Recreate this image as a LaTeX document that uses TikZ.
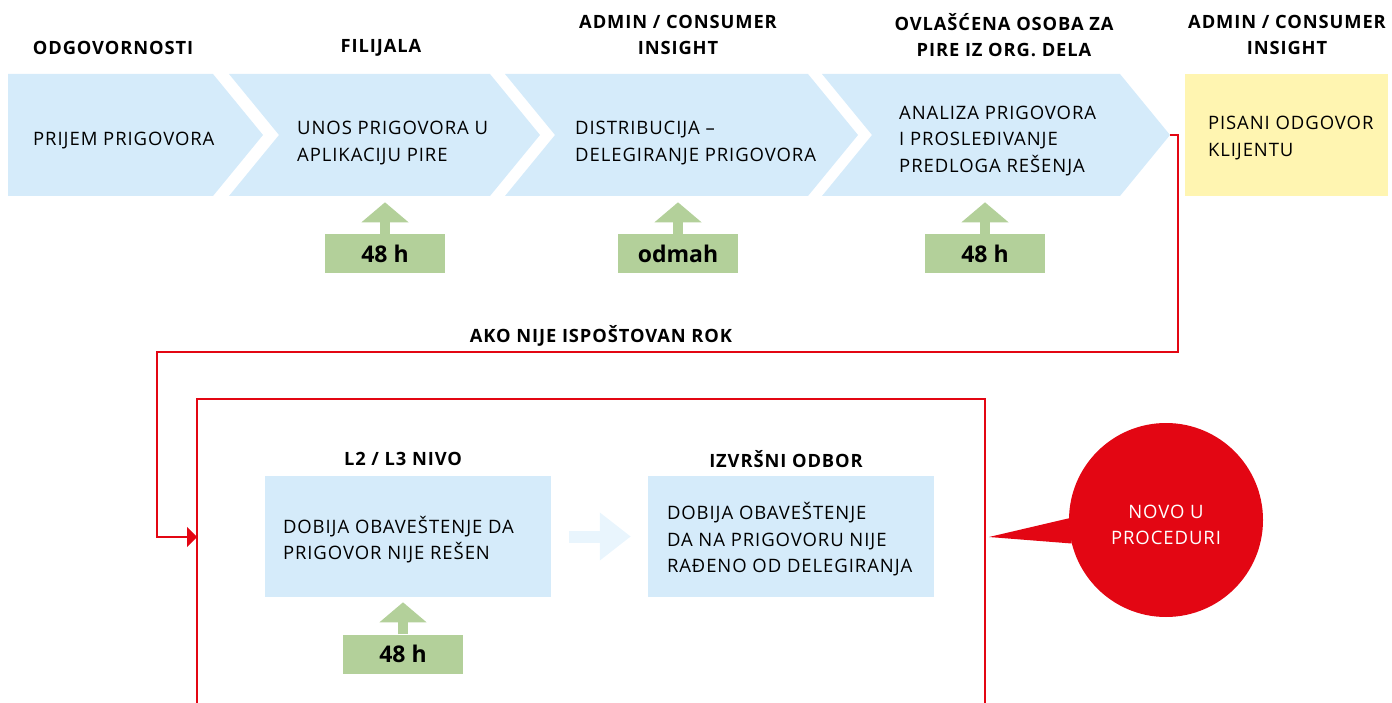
\documentclass[tikz,border=0pt]{standalone}
\usepackage{fontspec}
\setmainfont{Open Sans}
\newfontfamily\tracked[LetterSpace=5]{Open Sans}
\usetikzlibrary{positioning,arrows.meta}

\definecolor{chevblue}{HTML}{D5EBFA}
\definecolor{answeryellow}{HTML}{FFF5B1}
\definecolor{deadlinegreen}{HTML}{B3D09A}
\definecolor{alertred}{HTML}{E30613}
\definecolor{flowblue}{HTML}{E9F5FD}

\begin{document}
\begin{tikzpicture}[
    x=1pt, y=-1pt,
    chevron/.style={fill=chevblue},
    stagetext/.style={anchor=west, align=left, inner sep=0pt, yshift=-3pt, font=\tracked\fontsize{18.5}{26.5}\selectfont},
    role/.style={align=center, inner sep=0pt, yshift=-1pt, font=\tracked\bfseries\fontsize{18.3}{26}\selectfont},
    panel/.style={fill=chevblue, minimum width=286pt, minimum height=121pt, inner sep=0pt},
    deadline/.style={fill=deadlinegreen, minimum width=120pt, minimum height=39pt, inner sep=0pt, font=\bfseries\fontsize{23}{26}\selectfont},
    due/.style={draw=deadlinegreen, line width=10pt, -{Triangle[length=20pt, width=46pt]}},
    flow/.style={draw=flowblue, line width=12pt, -{Triangle[length=31pt, width=46pt]}},
    escalate/.style={draw=alertred, line width=2pt}
]
\useasboundingbox (0,0) rectangle (1392,703);

% Process chevrons
\fill[chevron] (8,74) -- (213,74) -- (263,135) -- (213,196) -- (8,196) -- cycle;
\fill[chevron] (229,74) -- (490,74) -- (540,135) -- (490,196) -- (229,196) -- (279,135) -- cycle;
\fill[chevron] (505,74) -- (808,74) -- (858,135) -- (808,196) -- (505,196) -- (555,135) -- cycle;
\fill[chevron] (822,74) -- (1120,74) -- (1170,135) -- (1120,196) -- (822,196) -- (872,135) -- cycle;
\coordinate (tip4) at (1170,135);
\node[fill=answeryellow, minimum width=203pt, minimum height=122pt, inner sep=0pt] (answer) at (1286.5,135) {};

% Stage texts
\node[stagetext] (s1) at (33,138) {PRIJEM PRIGOVORA};
\node[stagetext] (s2) at (297,140) {UNOS PRIGOVORA U\\APLIKACIJU PIRE};
\node[stagetext] (s3) at (575,140) {DISTRIBUCIJA –\\DELEGIRANJE PRIGOVORA};
\node[stagetext] (s4) at (899,138) {ANALIZA PRIGOVORA\\I PROSLEĐIVANJE\\PREDLOGA REŠENJA};
\node[stagetext, right=23pt of answer.west] (s5) {PISANI ODGOVOR\\KLIJENTU};

% Responsibilities
\node[role] (r1) at (113,47) {ODGOVORNOSTI};
\node[role] (r2) at (381,47) {FILIJALA};
\node[role] (r3) at (678,34) {ADMIN / CONSUMER\\INSIGHT};
\node[role] (r4) at (1004,34) {OVLAŠĆENA OSOBA ZA\\PIRE IZ ORG. DELA};
\node[role] (r5) at (1287,34) {ADMIN / CONSUMER\\INSIGHT};

% Deadlines
\node[deadline] (d2) at (385,254) {48 h};
\node[deadline] (d3) at (678,254) {odmah};
\node[deadline] (d4) at (985,254) {48 h};
\draw[due] (d2.north) -- ++(0,-32);
\draw[due] (d3.north) -- ++(0,-32);
\draw[due] (d4.north) -- ++(0,-32);

% Escalation
\coordinate (framein) at (197,537);
\draw[escalate] (197,703) |- (985,399) -- (985,703);
\draw[escalate, -{Triangle[length=10pt, width=20pt]}] (tip4) -- ++(8,0) |- (157,352) |- (framein);
\node[role] (late) at (601,335) {AKO NIJE ISPOŠTOVAN ROK};

\node[panel] (l2) at (408,536.5) {};
\node[stagetext, right=18pt of l2.west] (t2) {DOBIJA OBAVEŠTENJE DA\\PRIGOVOR NIJE REŠEN};
\node[role] (r6) at (403,458) {L2 / L3 NIVO};
\node[panel] (board) at (791,536.5) {};
\node[stagetext, right=19pt of board.west] (t3) {DOBIJA OBAVEŠTENJE\\DA NA PRIGOVORU NIJE\\RAĐENO OD DELEGIRANJA};
\node[role] (r7) at (786,458) {IZVRŠNI ODBOR};
\draw[flow, shorten <=18pt, shorten >=17pt] (l2) -- (board);

\node[deadline] (d6) at (403,654) {48 h};
\draw[due] (d6.north) -- ++(0,-32);

% New in procedure
\node[circle, fill=alertred, minimum size=194pt, inner sep=0pt] (novo) at (1166,520) {};
\node[text=white, align=center, inner sep=0pt, font=\tracked\fontsize{18.5}{26}\selectfont] (novotext) at (1166,525) {NOVO U\\PROCEDURI};
\coordinate (pointer) at (989,537);
\fill[alertred] (novo.179) -- (pointer) -- (novo.194) -- cycle;

\end{tikzpicture}
\end{document}
